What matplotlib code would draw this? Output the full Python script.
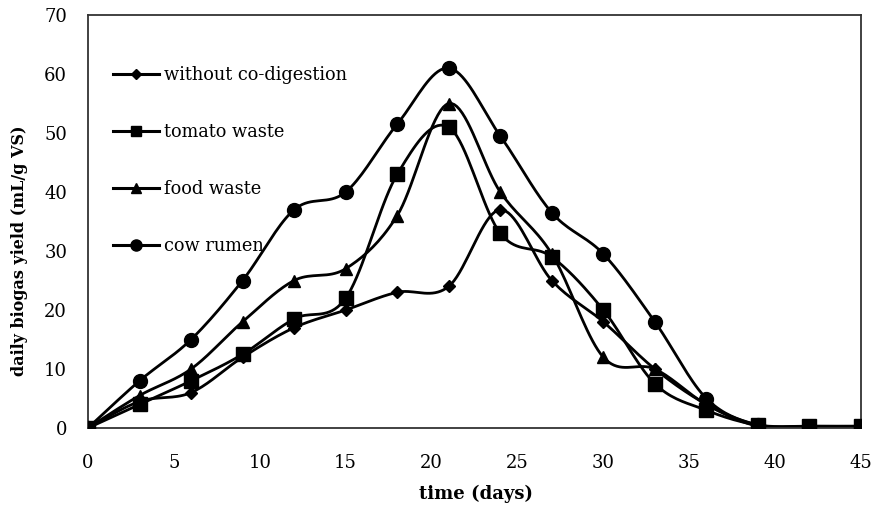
import matplotlib.pyplot as plt
import numpy as np

days = [0, 3, 6, 9, 12, 15, 18, 21, 24, 27, 30, 33, 36, 39, 42, 45]

without_codigestion = [0, 4.5, 6, 12, 17, 20, 23, 24, 37, 25, 18, 10, 4, 0.3, 0.2, 0.2]
tomato_waste = [0, 4, 8, 12.5, 18.5, 22, 43, 51, 33, 29, 20, 7.5, 3, 0.5, 0.3, 0.3]
food_waste = [0, 5.5, 10, 18, 25, 27, 36, 55, 40, 29.5, 12, 10, 4, 0.5, 0.3, 0.3]
cow_rumen = [0, 8, 15, 25, 37, 40, 51.5, 61, 49.5, 36.5, 29.5, 18, 5, 0.5, 0.2, 0.2]

labels = ['without co-digestion', 'tomato waste', 'food waste', 'cow rumen']
markers = ['D', 's', '^', 'o']
msizes = [6, 9.5, 9, 10]


def smooth(x, y, n=20):
    # Catmull-Rom style curve like Excel's smoothed lines
    x = np.asarray(x, float)
    y = np.asarray(y, float)
    px = np.concatenate([[x[0]], x, [x[-1]]])
    py = np.concatenate([[y[0]], y, [y[-1]]])
    xs, ys = [], []
    t = np.linspace(0, 1, n)
    for i in range(1, len(px) - 2):
        p0, p1, p2, p3 = [np.array([px[j], py[j]]) for j in (i - 1, i, i + 1, i + 2)]
        c1 = p1 + (p2 - p0) / 6
        c2 = p2 - (p3 - p1) / 6
        b = ((1 - t) ** 3)[:, None] * p1 + (3 * (1 - t) ** 2 * t)[:, None] * c1 \
            + (3 * (1 - t) * t ** 2)[:, None] * c2 + (t ** 3)[:, None] * p2
        xs.extend(b[:, 0])
        ys.extend(b[:, 1])
    return xs, ys


plt.rcParams['font.family'] = 'DejaVu Serif'

fig = plt.figure(figsize=(8.75, 5.08), dpi=100)
ax = fig.add_axes([88 / 875, 80 / 508, 773 / 875, 413 / 508])

series = [without_codigestion, tomato_waste, food_waste, cow_rumen]
for vals, lab, m, ms in zip(series, labels, markers, msizes):
    sx, sy = smooth(days, vals)
    ax.plot(sx, sy, color='black', lw=2, zorder=2)
    ax.plot(days, vals, linestyle='none', marker=m, ms=ms, color='black', zorder=3)
    ax.plot([], [], color='black', lw=2.2, marker=m, ms=ms * 0.8, label=lab)

ax.set_xlim(0, 45)
ax.set_ylim(0, 70)
ax.set_xticks(range(0, 46, 5))
ax.set_yticks(range(0, 71, 10))
ax.tick_params(length=0, labelsize=13)
ax.tick_params(axis='x', pad=19)
ax.tick_params(axis='y', pad=15)
for s in ax.spines.values():
    s.set_linewidth(1.3)
    s.set_color('#333333')

ax.set_xlabel('time (days)', fontsize=13, fontweight='bold')
ax.set_ylabel('daily biogas yield (mL/g VS)', fontsize=11.5, fontweight='bold')
ax.xaxis.set_label_coords(0.502, -0.138)
ax.yaxis.set_label_coords(-0.078, 0.43)

ax.legend(loc='upper left', frameon=False, fontsize=12.8, labelspacing=2.2,
          handlelength=2.6, handletextpad=0.25, bbox_to_anchor=(0.012, 0.915))

fig.savefig('out.png', dpi=100)
